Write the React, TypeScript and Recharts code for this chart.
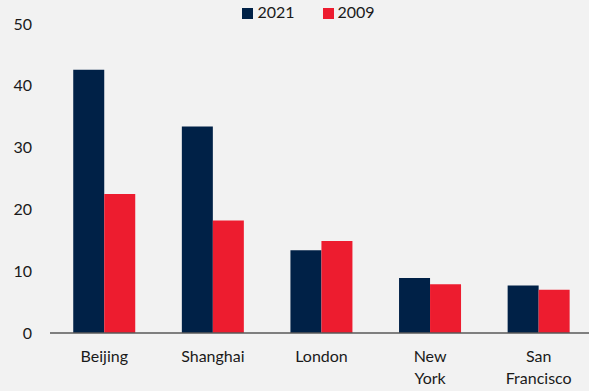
import React from 'react';
import { BarChart, Bar, XAxis, YAxis, Legend } from 'recharts';

const cities = ['Beijing', 'Shanghai', 'London', 'New York', 'San Francisco'];
const values2021 = [42.6, 33.4, 13.4, 8.9, 7.7];
const values2009 = [22.5, 18.2, 14.9, 7.9, 7.0];
const yTicks = [0, 10, 20, 30, 40, 50];
const seriesOrder = ['2021', '2009'];

const data = cities.map((city, i) => ({
  city,
  y2021: values2021[i],
  y2009: values2009[i],
}));

const FONT = 'Lato, "Open Sans", sans-serif';

const CityTick = (props: any) => {
  const { x, y, payload } = props;
  const lines = String(payload.value).split(' ');
  return (
    <text x={x} y={y} textAnchor="middle" fill="#1a1a1a" fontSize={16} fontFamily={FONT}>
      {lines.map((line, i) => (
        <tspan key={i} x={x} dy={i === 0 ? 21 : 22}>
          {line}
        </tspan>
      ))}
    </text>
  );
};

const App = () => {
  return (
    <div
      style={{
        position: 'absolute',
        left: 0,
        top: 0,
        width: 589,
        height: 391,
        background: '#f2f2f2',
        overflow: 'hidden',
      }}
    >
      <BarChart
        width={589}
        height={391}
        data={data}
        margin={{ top: 24, right: -4, left: 0, bottom: 0 }}
        barGap={0}
        barCategoryGap="21.4%"
      >
        <XAxis
          dataKey="city"
          tickLine={false}
          axisLine={{ stroke: '#595959', strokeWidth: 1.5 }}
          tick={<CityTick />}
          interval={0}
          height={58}
        />
        <YAxis
          domain={[0, 50]}
          ticks={yTicks}
          width={50}
          axisLine={false}
          tickLine={false}
          tickMargin={12}
          tick={{ fill: '#1a1a1a', fontSize: 16, fontFamily: FONT }}
        />
        <Legend
          verticalAlign="middle"
          align="center"
          iconType="square"
          iconSize={11}
          itemSorter={(item: any) => seriesOrder.indexOf(String(item.value))}
          wrapperStyle={{ top: 2, left: 19, width: 589, fontFamily: FONT, fontSize: 16 }}
          formatter={(value: string) => (
            <span style={{ color: '#1a1a1a', paddingRight: value === '2021' ? 18 : 0 }}>{value}</span>
          )}
        />
        <Bar dataKey="y2021" name="2021" fill="#002147" isAnimationActive={false} />
        <Bar dataKey="y2009" name="2009" fill="#ed1c2f" isAnimationActive={false} />
      </BarChart>
    </div>
  );
};

export default App;
